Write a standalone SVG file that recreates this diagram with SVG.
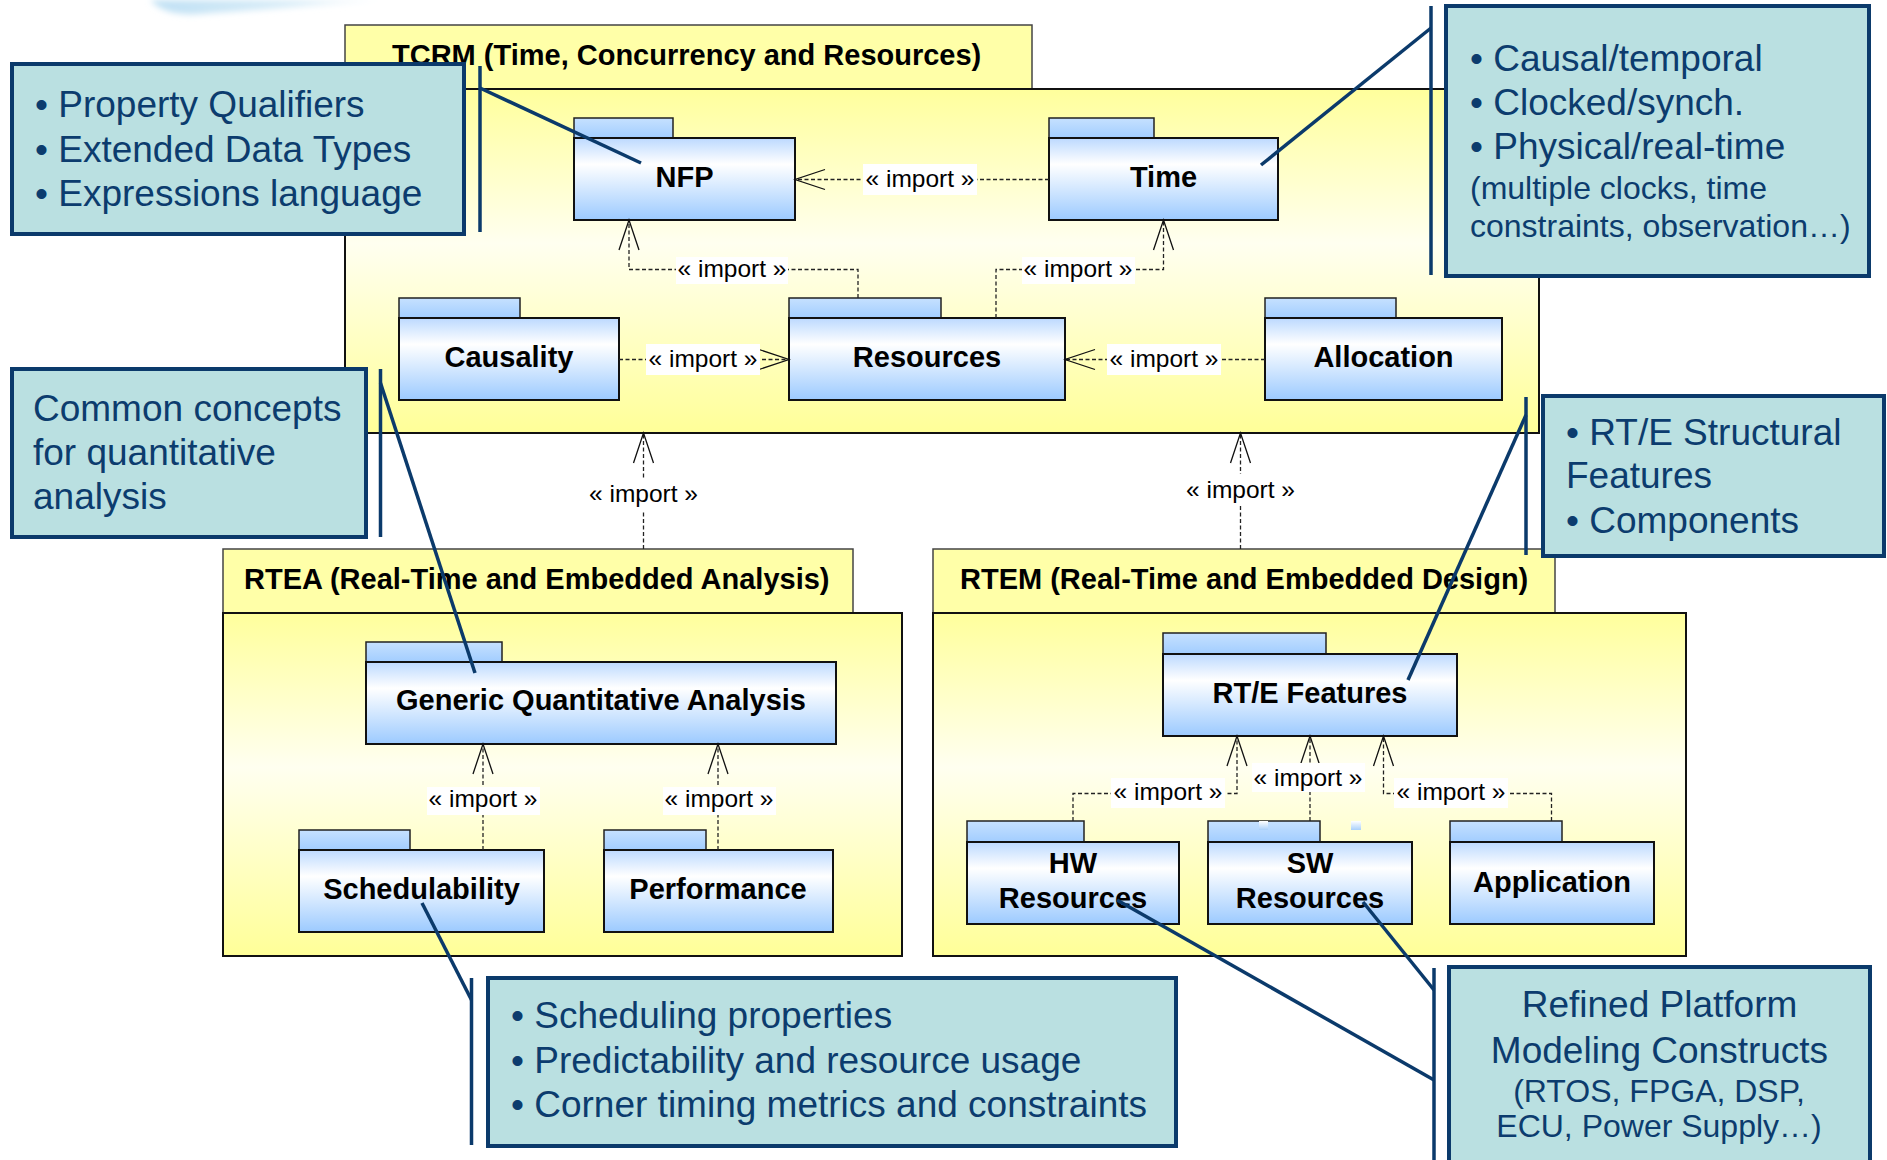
<svg xmlns="http://www.w3.org/2000/svg" width="1887" height="1160" viewBox="0 0 1887 1160">
<defs>
<linearGradient id="gBody" x1="0" y1="0" x2="0" y2="1">
<stop offset="0" stop-color="#bcd9ff"/><stop offset="0.32" stop-color="#ffffff"/><stop offset="1" stop-color="#9ccaff"/>
</linearGradient>
<linearGradient id="gTab" x1="0" y1="0" x2="0" y2="1">
<stop offset="0" stop-color="#c6e1ff"/><stop offset="1" stop-color="#a2cdff"/>
</linearGradient>
<linearGradient id="gYel" x1="0" y1="0" x2="0" y2="1">
<stop offset="0" stop-color="#ffff9c"/><stop offset="0.45" stop-color="#fffff0"/><stop offset="1" stop-color="#ffff98"/>
</linearGradient>
<linearGradient id="gArt" x1="0" y1="0" x2="0" y2="1">
<stop offset="0" stop-color="#ffffff"/><stop offset="1" stop-color="#a9d0fb"/>
</linearGradient>
<linearGradient id="gSw" x1="0" y1="0" x2="1" y2="0">
<stop offset="0" stop-color="#bfe0f4"/><stop offset="0.6" stop-color="#d9edf8"/><stop offset="1" stop-color="#ffffff"/>
</linearGradient>
<filter id="blur" x="-20%" y="-50%" width="140%" height="200%"><feGaussianBlur stdDeviation="3"/></filter>
<marker id="arr" viewBox="-32 -12 34 24" refX="0" refY="0" markerWidth="34" markerHeight="24" markerUnits="userSpaceOnUse" orient="auto">
<path d="M-30,-10 L0,0 L-30,10" fill="none" stroke="#111" stroke-width="1.3"/>
</marker>
<style>
.ytab{fill:#ffffa8;stroke:#444;stroke-width:1.5}
.ybody{fill:url(#gYel);stroke:#111;stroke-width:2}
.ptab{fill:url(#gTab);stroke:#222;stroke-width:1.5}
.pbody{fill:url(#gBody);stroke:#111;stroke-width:2}
.title{font-family:"Liberation Sans",Arial,sans-serif;font-weight:bold;font-size:29px;fill:#000}
.pname{font-family:"Liberation Sans",Arial,sans-serif;font-weight:bold;font-size:29px;fill:#000;text-anchor:middle}
.dep{fill:none;stroke:#222;stroke-width:1.3;stroke-dasharray:4 2.5}
.lbg{fill:#ffffff}
.lbl{font-family:"Liberation Sans",Arial,sans-serif;font-size:24.5px;fill:#000;text-anchor:middle}
.cbox{fill:#bae0e1;stroke:#0b3a6b;stroke-width:4}
.cbar{stroke:#0b3a6b;stroke-width:3.5}
.lead{stroke:#0b3a6b;stroke-width:3.5;fill:none}
.ct{font-family:"Liberation Sans",Arial,sans-serif;font-size:37px;fill:#0c3c6e}
.cs{font-family:"Liberation Sans",Arial,sans-serif;font-size:32px;fill:#0c3c6e}
</style>
</defs>
<rect x="0" y="0" width="1887" height="1160" fill="#ffffff"/>
<!-- decorative swoosh -->
<path d="M150,0 C160,10 175,16 200,14 C260,10 330,4 390,0 Z" fill="url(#gSw)" filter="url(#blur)"/>

<!-- Containers -->
<g id="TCRM">
<rect class="ytab" x="345" y="25" width="687" height="64"/>
<rect class="ybody" x="345" y="89" width="1194" height="344"/>
<text class="title" x="392" y="65">TCRM (Time, Concurrency and Resources)</text>
</g>
<g id="RTEA">
<rect class="ytab" x="223" y="549" width="630" height="64"/>
<rect class="ybody" x="223" y="613" width="679" height="343"/>
<text class="title" x="244" y="589">RTEA (Real-Time and Embedded Analysis)</text>
</g>
<g id="RTEM">
<rect class="ytab" x="933" y="549" width="622" height="64"/>
<rect class="ybody" x="933" y="613" width="753" height="343"/>
<text class="title" x="960" y="589">RTEM (Real-Time and Embedded Design)</text>
</g>

<!-- Packages -->
<g id="NFP">
<rect class="ptab" x="574" y="118" width="99" height="20"/>
<rect class="pbody" x="574" y="138" width="221" height="82"/>
<text class="pname" x="684.5" y="187">NFP</text>
</g>
<g id="Time">
<rect class="ptab" x="1049" y="118" width="105" height="20"/>
<rect class="pbody" x="1049" y="138" width="229" height="82"/>
<text class="pname" x="1163.5" y="187">Time</text>
</g>
<g id="Causality">
<rect class="ptab" x="399" y="298" width="121" height="20"/>
<rect class="pbody" x="399" y="318" width="220" height="82"/>
<text class="pname" x="509" y="367">Causality</text>
</g>
<g id="Resources">
<rect class="ptab" x="789" y="298" width="152" height="20"/>
<rect class="pbody" x="789" y="318" width="276" height="82"/>
<text class="pname" x="927" y="367">Resources</text>
</g>
<g id="Allocation">
<rect class="ptab" x="1265" y="298" width="131" height="20"/>
<rect class="pbody" x="1265" y="318" width="237" height="82"/>
<text class="pname" x="1383.5" y="367">Allocation</text>
</g>
<g id="GenericQuantitativeAnalysis">
<rect class="ptab" x="366" y="642" width="136" height="20"/>
<rect class="pbody" x="366" y="662" width="470" height="82"/>
<text class="pname" x="601" y="710">Generic Quantitative Analysis</text>
</g>
<g id="Schedulability">
<rect class="ptab" x="299" y="830" width="111" height="20"/>
<rect class="pbody" x="299" y="850" width="245" height="82"/>
<text class="pname" x="421.5" y="899">Schedulability</text>
</g>
<g id="Performance">
<rect class="ptab" x="604" y="830" width="102" height="20"/>
<rect class="pbody" x="604" y="850" width="229" height="82"/>
<text class="pname" x="718" y="899">Performance</text>
</g>
<g id="RTEFeatures">
<rect class="ptab" x="1163" y="633" width="163" height="21"/>
<rect class="pbody" x="1163" y="654" width="294" height="82"/>
<text class="pname" x="1310" y="703">RT/E Features</text>
</g>
<g id="HWResources">
<rect class="ptab" x="967" y="821" width="117" height="21"/>
<rect class="pbody" x="967" y="842" width="212" height="82"/>
<text class="pname" x="1073" y="873">HW</text>
<text class="pname" x="1073" y="908">Resources</text>
</g>
<g id="SWResources">
<rect class="ptab" x="1208" y="821" width="112" height="21"/>
<rect class="pbody" x="1208" y="842" width="204" height="82"/>
<text class="pname" x="1310" y="873">SW</text>
<text class="pname" x="1310" y="908">Resources</text>
</g>
<g id="Application">
<rect class="ptab" x="1450" y="821" width="112" height="21"/>
<rect class="pbody" x="1450" y="842" width="204" height="82"/>
<text class="pname" x="1552" y="892">Application</text>
</g>
<rect x="1259" y="821" width="9" height="9" fill="url(#gArt)"/>
<rect x="1351" y="821" width="10" height="9" fill="url(#gArt)"/>

<!-- Connectors -->
<g id="connectors">
<path class="dep" d="M1049,179.5 H795" marker-end="url(#arr)"/>
<path class="dep" d="M858,298 V269.5 H629 V220" marker-end="url(#arr)"/>
<path class="dep" d="M996,318 V269.5 H1163.5 V220" marker-end="url(#arr)"/>
<path class="dep" d="M619,359.5 H789" marker-end="url(#arr)"/>
<path class="dep" d="M1265,359.5 H1065" marker-end="url(#arr)"/>
<path class="dep" d="M643.5,549 V433" marker-end="url(#arr)"/>
<path class="dep" d="M1240.5,549 V433" marker-end="url(#arr)"/>
<path class="dep" d="M483,850 V744" marker-end="url(#arr)"/>
<path class="dep" d="M718,850 V744" marker-end="url(#arr)"/>
<path class="dep" d="M1073,821 V793.5 H1237 V736" marker-end="url(#arr)"/>
<path class="dep" d="M1310,821 V736" marker-end="url(#arr)"/>
<path class="dep" d="M1551.5,821 V793.5 H1383.5 V736" marker-end="url(#arr)"/>

<rect class="lbg" x="863" y="164" width="114" height="31"/>
<text class="lbl" x="920" y="187">« import »</text>
<rect class="lbg" x="676" y="257" width="112" height="27"/>
<text class="lbl" x="732" y="277">« import »</text>
<rect class="lbg" x="1022" y="257" width="113" height="27"/>
<text class="lbl" x="1078" y="277">« import »</text>
<rect class="lbg" x="646" y="344" width="114" height="31"/>
<text class="lbl" x="703" y="367">« import »</text>
<rect class="lbg" x="1107" y="344" width="114" height="31"/>
<text class="lbl" x="1164" y="367">« import »</text>
<rect class="lbg" x="586" y="478" width="115" height="32"/>
<text class="lbl" x="643.5" y="502">« import »</text>
<rect class="lbg" x="1183" y="474" width="115" height="32"/>
<text class="lbl" x="1240.5" y="498">« import »</text>
<rect class="lbg" x="427" y="787" width="113" height="28"/>
<text class="lbl" x="483" y="807">« import »</text>
<rect class="lbg" x="663" y="787" width="113" height="28"/>
<text class="lbl" x="719" y="807">« import »</text>
<rect class="lbg" x="1111" y="778" width="114" height="30"/>
<text class="lbl" x="1168" y="800">« import »</text>
<rect class="lbg" x="1252" y="763" width="113" height="29"/>
<text class="lbl" x="1308" y="786">« import »</text>
<rect class="lbg" x="1394" y="778" width="114" height="30"/>
<text class="lbl" x="1451" y="800">« import »</text>
</g>

<!-- Callouts -->
<g id="note-nfp">
<rect class="cbox" x="12" y="64" width="452" height="170"/>
<line class="cbar" x1="480" y1="66" x2="480" y2="232"/>
<line class="lead" x1="480" y1="88" x2="641" y2="163"/>
<text class="ct" x="35" y="117">• Property Qualifiers</text>
<text class="ct" x="35" y="162">• Extended Data Types</text>
<text class="ct" x="35" y="206">• Expressions language</text>
</g>
<g id="note-time">
<rect class="cbox" x="1446" y="6" width="423" height="270"/>
<line class="cbar" x1="1431" y1="6" x2="1431" y2="275"/>
<line class="lead" x1="1431" y1="28" x2="1261" y2="165"/>
<text class="ct" x="1470" y="71">• Causal/temporal</text>
<text class="ct" x="1470" y="115">• Clocked/synch.</text>
<text class="ct" x="1470" y="159">• Physical/real-time</text>
<text class="cs" x="1470" y="199">(multiple clocks, time</text>
<text class="cs" x="1470" y="237">constraints, observation…)</text>
</g>
<g id="note-common">
<rect class="cbox" x="12" y="369" width="354" height="168"/>
<line class="cbar" x1="380.5" y1="369" x2="380.5" y2="537"/>
<line class="lead" x1="380.5" y1="383" x2="475" y2="673"/>
<text class="ct" x="33" y="421">Common concepts</text>
<text class="ct" x="33" y="465">for quantitative</text>
<text class="ct" x="33" y="509">analysis</text>
</g>
<g id="note-rte">
<rect class="cbox" x="1543" y="396" width="341" height="160"/>
<line class="cbar" x1="1526" y1="397" x2="1526" y2="555"/>
<line class="lead" x1="1526" y1="415" x2="1408" y2="680"/>
<text class="ct" x="1566" y="445">• RT/E Structural</text>
<text class="ct" x="1566" y="488">Features</text>
<text class="ct" x="1566" y="533">• Components</text>
</g>
<g id="note-sched">
<rect class="cbox" x="488" y="978" width="688" height="168"/>
<line class="cbar" x1="471.5" y1="978" x2="471.5" y2="1145"/>
<line class="lead" x1="471.5" y1="1000" x2="422" y2="903"/>
<text class="ct" x="511" y="1028">• Scheduling properties</text>
<text class="ct" x="511" y="1073">• Predictability and resource usage</text>
<text class="ct" x="511" y="1117">• Corner timing metrics and constraints</text>
</g>
<g id="note-platform">
<rect class="cbox" x="1449" y="967" width="421" height="205"/>
<line class="cbar" x1="1434" y1="968" x2="1434" y2="1160"/>
<line class="lead" x1="1434" y1="990" x2="1363" y2="902"/>
<line class="lead" x1="1434" y1="1080" x2="1117" y2="900"/>
<text class="ct" x="1659.5" y="1017" text-anchor="middle">Refined Platform</text>
<text class="ct" x="1659.5" y="1063" text-anchor="middle">Modeling Constructs</text>
<text class="cs" x="1659" y="1102" text-anchor="middle">(RTOS, FPGA, DSP,</text>
<text class="cs" x="1659" y="1137" text-anchor="middle">ECU, Power Supply…)</text>
</g>
</svg>
